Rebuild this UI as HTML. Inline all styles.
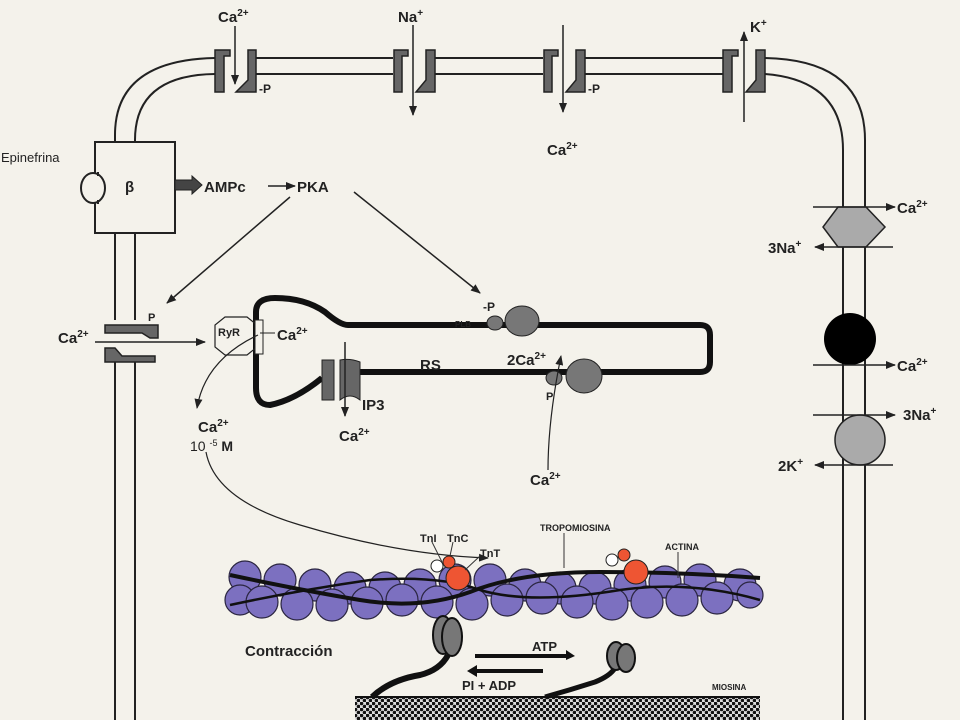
<!DOCTYPE html>
<html><head><meta charset="utf-8"><style>
html,body{margin:0;padding:0;background:#f4f2eb;}
svg{display:block;}
text{font-family:"Liberation Sans",sans-serif;font-weight:bold;fill:#222;}
</style></head><body>
<svg width="960" height="720" viewBox="0 0 960 720" xmlns="http://www.w3.org/2000/svg">
<defs>
<marker id="ah" markerWidth="10" markerHeight="8" refX="9" refY="4" orient="auto" markerUnits="userSpaceOnUse"><path d="M0,0 L10,4 L0,8 z" fill="#222"/></marker>
<pattern id="dots" width="6" height="6" patternUnits="userSpaceOnUse"><rect width="6" height="6" fill="#ddd"/><circle cx="1.5" cy="1.5" r="1.8" fill="#111"/><circle cx="4.5" cy="4.5" r="1.8" fill="#111"/></pattern>
</defs>
<rect width="960" height="720" fill="#f4f2eb"/>
<g fill="none" stroke="#222" stroke-width="2">
<path d="M115 142 L115 135 Q115 60 215 58 L765 58 Q865 60 865 140 L865 720"/>
<path d="M135 142 L135 140 Q135 75 215 74 L765 74 Q843 80 843 150 L843 720"/>
<path d="M115 233 L115 720 M135 233 L135 720"/>
<rect x="95" y="142" width="80" height="91" fill="#f4f2eb"/>
</g>
<g fill="#f4f2eb"><rect x="215" y="50" width="40" height="42"/><rect x="393" y="50" width="42" height="42"/><rect x="543" y="50" width="42" height="42"/><rect x="723" y="50" width="42" height="42"/><rect x="100" y="320" width="60" height="40"/></g>
<ellipse cx="93" cy="188" rx="12" ry="15" fill="#f4f2eb" stroke="#222" stroke-width="2"/>
<path d="M98 172 L98 176 M98 200 L98 204" stroke="#222" stroke-width="2"/>
<rect x="92" y="178" width="4" height="20" fill="#f4f2eb"/>
<text x="125" y="192" font-size="15">β</text>
<text x="1" y="162" font-size="13" style="font-weight:normal">Epinefrina</text>
<path d="M175 180 L192 180 L192 176 L202 185 L192 194 L192 190 L175 190 z" fill="#444" stroke="#222"/>
<text x="204" y="192" font-size="15">AMPc</text>
<line x1="268" y1="186" x2="295" y2="186" stroke="#222" stroke-width="1.5" marker-end="url(#ah)"/>
<text x="297" y="192" font-size="15">PKA</text>
<line x1="290" y1="197" x2="167" y2="303" stroke="#222" stroke-width="1.5" marker-end="url(#ah)"/>
<line x1="354" y1="192" x2="480" y2="293" stroke="#222" stroke-width="1.5" marker-end="url(#ah)"/>
<g fill="#666" stroke="#222" stroke-width="1.5">
<path d="M215 50 L230 50 L230 56 L224 56 L224 92 L215 92 z"/><path d="M248 50 L256 50 L256 92 L236 92 L248 80 z"/>
<path d="M394 50 L408 50 L408 56 L402 56 L402 92 L394 92 z"/><path d="M426 50 L435 50 L435 92 L416 92 L426 80 z"/>
<path d="M544 50 L558 50 L558 56 L552 56 L552 92 L544 92 z"/><path d="M576 50 L585 50 L585 92 L566 92 L576 80 z"/>
<path d="M723 50 L738 50 L738 56 L732 56 L732 92 L723 92 z"/><path d="M756 50 L765 50 L765 92 L746 92 L756 80 z"/>
</g>
<g stroke="#222" stroke-width="1.5">
<line x1="235" y1="26" x2="235" y2="84" marker-end="url(#ah)"/>
<line x1="413" y1="25" x2="413" y2="115" marker-end="url(#ah)"/>
<line x1="563" y1="25" x2="563" y2="112" marker-end="url(#ah)"/>
<line x1="744" y1="122" x2="744" y2="32" marker-end="url(#ah)"/>
</g>
<text x="218" y="22" font-size="15">Ca<tspan font-size="10" dy="-6">2+</tspan></text>
<text x="398" y="22" font-size="15">Na<tspan font-size="10" dy="-6">+</tspan></text>
<text x="750" y="32" font-size="15">K<tspan font-size="10" dy="-6">+</tspan></text>
<text x="259" y="93" font-size="12">-P</text>
<text x="588" y="93" font-size="12">-P</text>
<text x="547" y="155" font-size="15">Ca<tspan font-size="10" dy="-6">2+</tspan></text>
<path d="M105 325 L158 325 L158 338 L150 338 L142 333 L105 333 z" fill="#666" stroke="#222" stroke-width="1.5"/>
<path d="M105 348 L115 348 L122 356 L155 356 L155 362 L105 362 z" fill="#666" stroke="#222" stroke-width="1.5"/>
<text x="148" y="321" font-size="11">P</text>
<text x="58" y="343" font-size="15">Ca<tspan font-size="10" dy="-6">2+</tspan></text>
<line x1="95" y1="342" x2="205" y2="342" stroke="#222" stroke-width="1.5" marker-end="url(#ah)"/>
<path d="M348 325 L700 325 Q710 325 710 335 L710 362 Q710 372 700 372 L360 372 M322 378 Q295 400 270 405 Q256 405 256 388 L256 312 Q256 298 275 298 Q305 298 325 312 Q340 325 348 325" fill="none" stroke="#111" stroke-width="6"/>
<rect x="322" y="360" width="12" height="40" fill="#666" stroke="#222"/>
<path d="M340 360 Q350 358 360 362 L360 400 Q350 392 340 400 z" fill="#666" stroke="#222"/>
<line x1="345" y1="342" x2="345" y2="416" stroke="#222" stroke-width="1.5" marker-end="url(#ah)"/>
<text x="362" y="410" font-size="15">IP3</text>
<text x="339" y="441" font-size="15">Ca<tspan font-size="10" dy="-6">2+</tspan></text>
<text x="420" y="370" font-size="15">RS</text>
<path d="M225 317 L247 317 L257 325 L257 347 L247 355 L225 355 L215 347 L215 325 z" fill="none" stroke="#222" stroke-width="1.2"/>
<rect x="255" y="320" width="8" height="34" fill="#f4f2eb" stroke="#222"/>
<text x="218" y="336" font-size="11">RyR</text>
<line x1="260" y1="333" x2="275" y2="333" stroke="#222"/>
<text x="277" y="340" font-size="15">Ca<tspan font-size="10" dy="-6">2+</tspan></text>
<path d="M258 335 Q205 360 197 408" fill="none" stroke="#222" stroke-width="1.2" marker-end="url(#ah)"/>
<text x="198" y="432" font-size="15">Ca<tspan font-size="10" dy="-6">2+</tspan></text>
<text x="190" y="451" font-size="14" style="font-weight:normal">10 <tspan font-size="9" dy="-5">-5</tspan><tspan dy="5" style="font-weight:bold"> M</tspan></text>
<path d="M206 452 Q215 500 300 525 Q400 555 488 558" fill="none" stroke="#222" stroke-width="1.2" marker-end="url(#ah)"/>
<ellipse cx="495" cy="323" rx="8" ry="7" fill="#777" stroke="#222"/>
<ellipse cx="522" cy="321" rx="17" ry="15" fill="#777" stroke="#222"/>
<text x="483" y="311" font-size="12">-P</text>
<text x="455" y="327" font-size="8">PLB</text>
<ellipse cx="554" cy="378" rx="8" ry="7" fill="#777" stroke="#222"/>
<ellipse cx="584" cy="376" rx="18" ry="17" fill="#777" stroke="#222"/>
<text x="507" y="365" font-size="15">2Ca<tspan font-size="10" dy="-6">2+</tspan></text>
<text x="546" y="400" font-size="11">P</text>
<path d="M548 470 Q548 420 561 356" fill="none" stroke="#222" stroke-width="1.2" marker-end="url(#ah)"/>
<text x="530" y="485" font-size="15">Ca<tspan font-size="10" dy="-6">2+</tspan></text>
<polygon points="838,207 866,207 885,227 866,247 838,247 823,227" fill="#aaa" stroke="#222" stroke-width="1.5"/>
<line x1="813" y1="207" x2="895" y2="207" stroke="#222" stroke-width="1.5" marker-end="url(#ah)"/>
<line x1="893" y1="247" x2="815" y2="247" stroke="#222" stroke-width="1.5" marker-end="url(#ah)"/>
<text x="897" y="213" font-size="15">Ca<tspan font-size="10" dy="-6">2+</tspan></text>
<text x="768" y="253" font-size="15">3Na<tspan font-size="10" dy="-6">+</tspan></text>
<circle cx="850" cy="339" r="26" fill="#000"/>
<line x1="813" y1="365" x2="895" y2="365" stroke="#222" stroke-width="1.5" marker-end="url(#ah)"/>
<text x="897" y="371" font-size="15">Ca<tspan font-size="10" dy="-6">2+</tspan></text>
<circle cx="860" cy="440" r="25" fill="#aaa" stroke="#222" stroke-width="1.5"/>
<line x1="813" y1="415" x2="895" y2="415" stroke="#222" stroke-width="1.5" marker-end="url(#ah)"/>
<line x1="893" y1="465" x2="815" y2="465" stroke="#222" stroke-width="1.5" marker-end="url(#ah)"/>
<text x="903" y="420" font-size="15">3Na<tspan font-size="10" dy="-6">+</tspan></text>
<text x="778" y="471" font-size="15">2K<tspan font-size="10" dy="-6">+</tspan></text>
<g fill="#7c70c0" stroke="#2a2540" stroke-width="1.2">
<circle cx="245" cy="577" r="16"/><circle cx="280" cy="580" r="16"/><circle cx="315" cy="585" r="16"/><circle cx="350" cy="588" r="16"/><circle cx="385" cy="588" r="16"/><circle cx="420" cy="585" r="16"/><circle cx="455" cy="580" r="16"/><circle cx="490" cy="580" r="16"/><circle cx="525" cy="585" r="16"/><circle cx="560" cy="588" r="16"/><circle cx="595" cy="588" r="16"/><circle cx="630" cy="585" r="16"/><circle cx="665" cy="582" r="16"/><circle cx="700" cy="580" r="16"/><circle cx="740" cy="585" r="16"/>
<circle cx="240" cy="600" r="15"/><circle cx="262" cy="602" r="16"/><circle cx="297" cy="604" r="16"/><circle cx="332" cy="605" r="16"/><circle cx="367" cy="603" r="16"/><circle cx="402" cy="600" r="16"/><circle cx="437" cy="602" r="16"/><circle cx="472" cy="604" r="16"/><circle cx="507" cy="600" r="16"/><circle cx="542" cy="598" r="16"/><circle cx="577" cy="602" r="16"/><circle cx="612" cy="604" r="16"/><circle cx="647" cy="602" r="16"/><circle cx="682" cy="600" r="16"/><circle cx="717" cy="598" r="16"/><circle cx="750" cy="595" r="13"/>
</g>
<path d="M230 575 Q300 590 360 600 Q420 610 470 592 Q520 572 600 572 Q680 572 760 578" fill="none" stroke="#111" stroke-width="4"/>
<path d="M230 605 Q300 590 370 580 Q440 575 480 590 Q530 605 620 590 Q690 580 760 600" fill="none" stroke="#111" stroke-width="2.5"/>
<circle cx="437" cy="566" r="6" fill="#fff" stroke="#222"/>
<circle cx="449" cy="562" r="6" fill="#ee5533" stroke="#222"/>
<circle cx="458" cy="578" r="12" fill="#ee5533" stroke="#222"/>
<circle cx="612" cy="560" r="6" fill="#fff" stroke="#222"/>
<circle cx="624" cy="555" r="6" fill="#ee5533" stroke="#222"/>
<circle cx="636" cy="572" r="12" fill="#ee5533" stroke="#222"/>
<text x="420" y="542" font-size="11">TnI</text>
<text x="447" y="542" font-size="11">TnC</text>
<text x="480" y="557" font-size="11">TnT</text>
<text x="540" y="531" font-size="9">TROPOMIOSINA</text>
<text x="665" y="550" font-size="9">ACTINA</text>
<text x="712" y="690" font-size="8">MIOSINA</text>
<g stroke="#333" stroke-width="1"><line x1="432" y1="542" x2="442" y2="562"/><line x1="453" y1="542" x2="450" y2="556"/><line x1="480" y1="556" x2="465" y2="570"/><line x1="564" y1="533" x2="564" y2="568"/><line x1="678" y1="552" x2="678" y2="578"/></g>
<rect x="355" y="697" width="405" height="23" fill="url(#dots)"/>
<line x1="355" y1="697" x2="760" y2="697" stroke="#111" stroke-width="2"/>
<path d="M372 697 Q390 680 420 675 Q440 670 448 655" fill="none" stroke="#111" stroke-width="6"/>
<ellipse cx="443" cy="635" rx="10" ry="19" fill="#777" stroke="#111" stroke-width="2"/>
<ellipse cx="452" cy="637" rx="10" ry="19" fill="#777" stroke="#111" stroke-width="2"/>
<path d="M545 697 Q570 690 595 682 Q610 676 615 668" fill="none" stroke="#111" stroke-width="5"/>
<ellipse cx="616" cy="656" rx="9" ry="14" fill="#777" stroke="#111" stroke-width="2"/>
<ellipse cx="626" cy="658" rx="9" ry="14" fill="#777" stroke="#111" stroke-width="2"/>
<path d="M475 654 L566 654 L566 650 L575 656 L566 660 L566 658 L475 658 z" fill="#111"/>
<path d="M543 669 L477 669 L477 665 L467 671 L477 677 L477 673 L543 673 z" fill="#111"/>
<text x="532" y="651" font-size="13">ATP</text>
<text x="462" y="690" font-size="13">PI + ADP</text>
<text x="245" y="656" font-size="15">Contracción</text>
</svg>
</body></html>
